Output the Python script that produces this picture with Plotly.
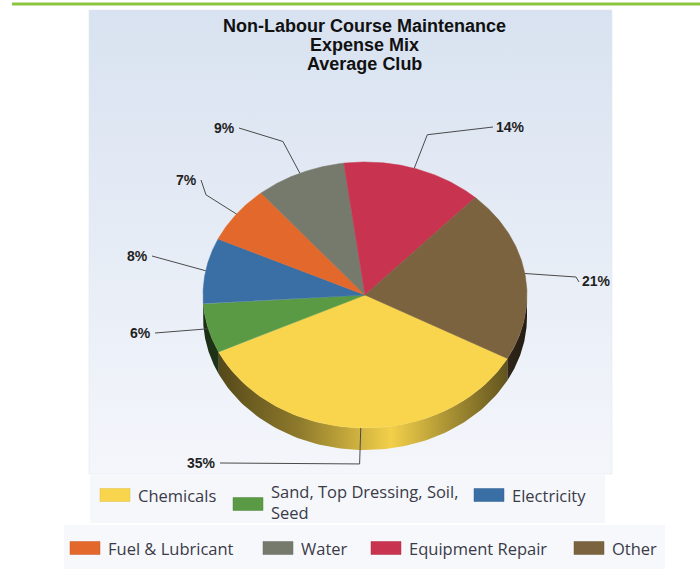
import numpy as np
import plotly.graph_objects as go

# ---------------- data ----------------
categories = ["Chemicals", "Sand, Top Dressing, Soil, Seed", "Electricity",
              "Fuel & Lubricant", "Water", "Equipment Repair", "Other"]
legend_text = ["Chemicals", "Sand, Top Dressing, Soil,<br>Seed", "Electricity",
               "Fuel & Lubricant", "Water", "Equipment Repair", "Other"]
shares = [35, 6, 8, 7, 9, 14, 21]
colors = ["#f8d54c", "#5a9a44", "#3a6fa6", "#e2682b", "#767a6d", "#c8344f", "#7b6340"]
title_lines = ["Non-Labour Course Maintenance", "Expense Mix", "Average Club"]

# ---------------- layout constants ----------------
W, H = 700, 569
CX, CY, RX, RY, DEPTH = 365, 295, 162, 133, 22
START = -28.5  # degrees (math convention), slices run clockwise
# label end points (where connector meets text) and text anchor side
label_pos = [(220, 463, "right"), (155, 333, "right"), (152, 256, "right"),
             (201, 180, "right"), (239, 128, "right"), (493, 127, "left"),
             (576, 277, "left")]
legend_pos = [(100, 495, 1), (233, 504, 1), (474, 495, 1),
              (70, 548, 2), (263, 548, 2), (371, 548, 2), (574, 548, 2)]


def shade(hexc, f):
    h = hexc.lstrip("#")
    r, g, b = int(h[0:2], 16), int(h[2:4], 16), int(h[4:6], 16)
    return "rgb(%d,%d,%d)" % (min(255, r * f), min(255, g * f), min(255, b * f))


def ell(theta_deg, dy=0.0):
    t = np.radians(theta_deg)
    return CX + RX * np.cos(t), CY - RY * np.sin(t) + dy


fig = go.Figure()

# chart background with vertical gradient (darker blue at top)
fig.add_trace(go.Scatter(
    x=[89, 612, 612, 89, 89], y=[10, 10, 474, 474, 10], mode="lines",
    line=dict(width=0.6, color="#e3e8ef"), fill="toself",
    fillgradient=dict(type="vertical", colorscale=[[0, "#f4f6fb"], [1, "#d8e2f0"]]),
    hoverinfo="skip", showlegend=False))

total = float(sum(shares))
angles = []
acc = 0.0
for v in shares:
    a = START - 360 * acc / total
    acc += v
    b = START - 360 * acc / total
    angles.append((a, b))

# 3D side (front part only)
for (a, b), c in zip(angles, colors):
    for k in (-1, 0, 1):
        lo, hi = -180 + 360 * k, 0 + 360 * k
        s, e = max(b, lo), min(a, hi)
        if e - s <= 0.01:
            continue
        th = np.linspace(e, s, 80)
        xt, yt = ell(th)
        xb, yb = ell(th[::-1], DEPTH)
        xs = np.concatenate([xt, xb, xt[:1]])
        ys = np.concatenate([yt, yb, yt[:1]])
        fig.add_trace(go.Scatter(
            x=xs, y=ys, mode="lines", line=dict(width=0), fill="toself",
            fillgradient=dict(type="horizontal", start=CX - RX, stop=CX + RX,
                              colorscale=[[0, shade(c, 0.3)], [0.3, shade(c, 0.58)],
                                          [0.58, shade(c, 0.98)], [0.8, shade(c, 0.62)],
                                          [1, shade(c, 0.3)]]),
            hoverinfo="skip", showlegend=False))

# top faces
for (a, b), c, name, v in zip(angles, colors, categories, shares):
    th = np.linspace(a, b, 120)
    xa, ya = ell(th)
    xs = np.concatenate([[CX], xa, [CX]])
    ys = np.concatenate([[CY], ya, [CY]])
    fig.add_trace(go.Scatter(
        x=xs, y=ys, mode="lines", line=dict(width=0.5, color=c), fill="toself",
        fillcolor=c, name=name, hoverinfo="text", text=f"{name}: {v}%",
        showlegend=False))

# connectors + labels
annotations = []
for (a, b), v, (lx, ly, side) in zip(angles, shares, label_pos):
    m = (a + b) / 2
    ax, ay = ell(m)
    d = np.array([ax - CX, ay - CY])
    d = d / np.linalg.norm(d)
    L = 36 if abs(np.sin(np.radians(m))) > 0.5 else 0
    ex, ey = ax + d[0] * L, ay + d[1] * L
    xs, ys = [ax, ex, lx], [ay, ey, ly]
    ty = ly
    if side == "left" and L == 0:
        # small downward hook before the text
        xs, ys = [ax, lx, lx + 3], [ay, ly, ly + 5]
        ty = ly + 4
    fig.add_trace(go.Scatter(
        x=xs, y=ys, mode="lines",
        line=dict(color="#4a4a4a", width=1), hoverinfo="skip", showlegend=False))
    annotations.append(dict(
        x=(xs[-1] - 2) if side == "right" else (xs[-1] + 1), y=ty, xref="x", yref="y",
        text=f"<b>{v}%</b>", showarrow=False,
        xanchor="right" if side == "right" else "left", yanchor="middle",
        font=dict(family="Liberation Sans, Arial", size=14, color="#1f1f1f")))

# title
for i, t in enumerate(title_lines):
    annotations.append(dict(
        x=364, y=26 + 19 * i, xref="x", yref="y", text=f"<b>{t}</b>",
        showarrow=False, xanchor="center", yanchor="middle",
        font=dict(family="Liberation Sans, Arial", size=18, color="#111111")))

# legend
shapes = [
    dict(type="line", x0=12, x1=700, y0=4, y1=4, xref="x", yref="y",
         line=dict(color="#8cc63f", width=3)),
    dict(type="rect", x0=90, x1=605, y0=475, y1=523, xref="x", yref="y",
         line=dict(width=0), fillcolor="#f5f7fb", layer="below"),
    dict(type="rect", x0=64, x1=665, y0=525, y1=569, xref="x", yref="y",
         line=dict(width=0), fillcolor="#f7f8fb", layer="below"),
]
for (px, py, row), c, t in zip(legend_pos, colors, legend_text):
    shapes.append(dict(type="rect", x0=px, x1=px + 30, y0=py - 6.5, y1=py + 6.5,
                       xref="x", yref="y", line=dict(width=0.5, color=shade(c, 0.9)),
                       fillcolor=c))
    ty = py - 2 if "<br>" in t else py
    annotations.append(dict(
        x=px + 36, y=ty, xref="x", yref="y", text=t, showarrow=False,
        xanchor="left", yanchor="middle", align="left",
        font=dict(family="Open Sans", size=16.5, color="#3a3b48")))

fig.update_layout(
    width=W, height=H, autosize=False,
    margin=dict(l=0, r=0, t=0, b=0),
    paper_bgcolor="white", plot_bgcolor="white",
    xaxis=dict(range=[0, W], visible=False, fixedrange=True),
    yaxis=dict(range=[H, 0], visible=False, fixedrange=True),
    shapes=shapes, annotations=annotations, showlegend=False,
)

fig.write_html("out.html")
